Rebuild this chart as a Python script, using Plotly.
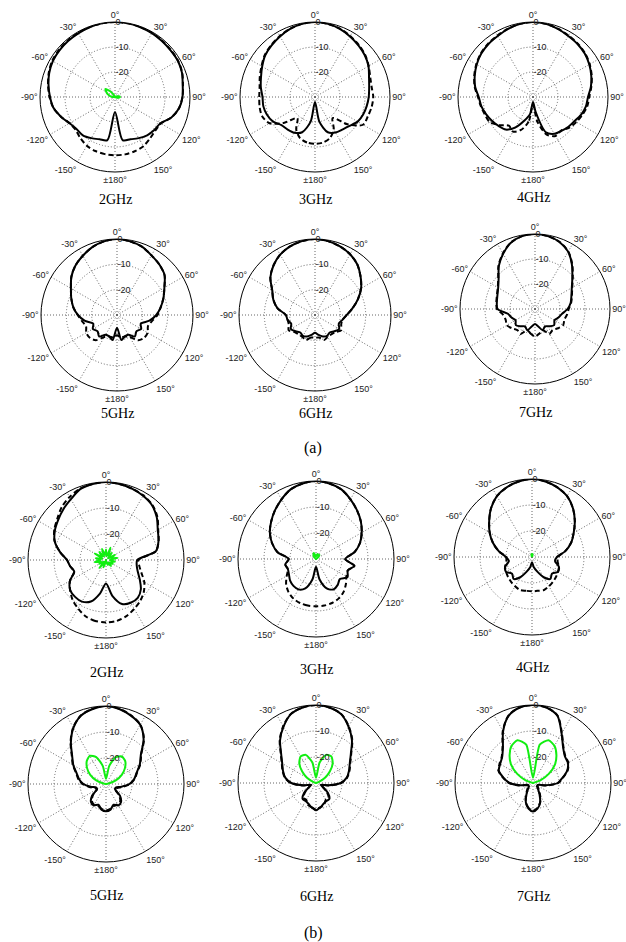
import plotly.graph_objects as go

W, H = 626, 942

THETA = [-180, -170, -160, -150, -140, -130, -120, -110, -100, -90, -80, -70, -60, -50, -40, -30, -20, -10,
         0, 10, 20, 30, 40, 50, 60, 70, 80, 90, 100, 110, 120, 130, 140, 150, 160, 170, 180]

ANG_TICKVALS = [0, 30, 60, 90, 120, 150, 180, 210, 240, 270, 300, 330]
ANG_TICKTEXT = ["0°", "30°", "60°", "90°", "120°", "150°", "±180°", "-150°", "-120°", "-90°", "-60°", "-30°"]
RAD_TICKVALS = [-20, -10, 0]
RAD_TICKTEXT = ["-20", "-10", "0"]
FREQS = ["2GHz", "3GHz", "4GHz", "5GHz", "6GHz", "7GHz"]
GROUP_LABELS = ["(a)", "(b)"]

# ---------------- (a) ----------------
A2_SOLID = [-24, -12.5, -12, -11, -10, -10, -9, -7, -5, -4, -3, -2, -1.3, -1, -0.8, -0.6, -0.3, -0.1,
            0, -0.1, -0.3, -0.5, -0.8, -1, -1, -1.5, -2.5, -3, -4, -6, -9, -9.5, -10, -11, -12, -12.5, -24]
A2_DASH = [-6.7, -6.8, -7, -7.5, -8.5, -9.5, -9, -7, -5, -3.8, -2.8, -1.8, -1, -0.7, -0.5, -0.4, -0.2, -0.1,
           0, -0.1, -0.2, -0.4, -0.6, -0.8, -0.9, -1.4, -2.4, -3, -4, -6, -8.8, -9, -8.3, -7.3, -6.9, -6.7, -6.7]
A2_GREEN = [-30, -30, -30, -30, -30, -30, -30, -30, -30, -29, -28, -27, -26, -25, -27, -29, -30, -30,
            -30, -30, -30, -30, -30, -30, -30, -29.5, -28.5, -28, -28.5, -29.5, -30, -30, -30, -30, -30, -30, -30]

A3_SOLID = [-28, -20, -15, -13.5, -13, -12.5, -10.5, -9.5, -9, -9, -8, -7, -5.6, -4, -3, -2, -1, -0.3,
            0, -0.3, -1, -2, -3, -4, -5.3, -7, -8, -8.5, -9, -9.5, -10.3, -12, -13, -13.6, -15, -20, -28]
A3_DASH = [-11.3, -11.5, -12.5, -15, -19, -14, -9, -7.5, -7.5, -7.7, -7.5, -6.5, -5.3, -3.8, -2.8, -1.8, -0.9, -0.3,
           0, -0.3, -0.9, -1.8, -2.8, -3.8, -5.2, -6.5, -7, -6.7, -7, -7.5, -7.8, -13, -19, -15, -12.5, -11.5, -11.3]

A4_SOLID = [-28, -23, -20, -16, -13, -12, -11, -10, -9, -8.3, -6.5, -5.2, -4, -3, -2.3, -1.8, -1, -0.3,
            0, -0.3, -1, -1.8, -2.3, -3, -4, -5.2, -6.5, -8, -8.5, -9.5, -10.8, -11.5, -12.3, -13, -15, -24, -28]
A4_DASH = [-27, -20, -16, -14, -15, -12.5, -10, -9.5, -8.8, -8, -6.3, -5, -3.8, -2.8, -2.1, -1.6, -0.9, -0.3,
           0, -0.3, -0.9, -1.6, -2.1, -2.8, -3.8, -5, -6.3, -7.5, -8, -9, -10, -11, -12.5, -12, -14, -20, -27]

A5_SOLID = [-25, -20, -21, -21, -19, -20, -19, -20, -17, -14.6, -12.5, -10.8, -9, -6.5, -4.5, -3, -1.5, -0.5,
            0, -0.5, -1.3, -2.8, -4, -5.5, -8.4, -10.5, -12.5, -14.5, -17, -20, -19, -20, -19, -21, -21, -20, -25]
A5_DASH = [-22, -21, -21, -20, -17, -16, -16, -17, -16, -14.5, -12.5, -10.8, -9, -6.5, -4.5, -3, -1.5, -0.5,
           0, -0.5, -1.3, -2.8, -4, -5.5, -8.4, -10.5, -12.5, -14, -16, -17, -16, -16, -17, -20, -21, -21, -22]

A6_SOLID = [-23, -22, -21, -20.5, -21, -20, -19, -20, -19, -18.5, -15, -12.5, -10.5, -7, -4.5, -2.5, -1.2, -0.4,
            0, -0.4, -1.2, -2.3, -4, -6.5, -9, -12, -15, -17.5, -19, -20, -19, -20, -21, -20.5, -21, -22, -23]
A6_DASH = [-21, -21, -19.5, -20, -20, -19.5, -18, -19, -19, -18.5, -15, -12.5, -10.5, -7, -4.5, -2.5, -1.2, -0.4,
           0, -0.4, -1.2, -2.3, -4, -6.5, -9, -12, -15, -17.5, -19, -19, -18, -19.5, -20, -20, -19.5, -21, -21]

A7_SOLID = [-24, -23, -21, -22, -21, -20, -21, -20, -19, -15, -14.5, -14, -13, -11, -7.5, -4.5, -1.8, -0.4,
            0, -0.4, -1.5, -3.5, -7, -10.5, -13, -14.5, -15.5, -17, -19, -20, -21, -20, -21, -22, -21, -23, -24]
A7_DASH = [-19, -20, -21, -18.5, -19, -18, -17, -17.5, -17, -14.8, -14.3, -13.8, -12.8, -10.8, -7.3, -4.3, -1.7, -0.4,
           0, -0.4, -1.4, -3.4, -6.8, -10.3, -12.8, -14.3, -15.3, -16.5, -17, -17.5, -17, -18, -19, -18.5, -21, -20, -19]

# ---------------- (b) ----------------
B2_SOLID = [-21, -17, -13, -11.5, -11.5, -12, -14, -17, -16, -15, -12, -9, -7.3, -6, -4.5, -3, -1, -0.3,
            0, -0.3, -0.8, -1.5, -2.5, -4.5, -7, -8.5, -10.5, -18, -18, -17, -15, -12.5, -11, -11, -12, -16, -21]
B2_DASH = [-6, -6.2, -7, -8.5, -10, -12, -14, -17, -16, -15, -12, -9, -7, -5.5, -3.5, -2, -0.8, -0.3,
           0, -0.3, -0.8, -1.3, -2.3, -4.2, -6.8, -8.5, -10.5, -17.5, -17, -15.5, -13, -11, -9.5, -8.3, -7, -6.2, -6]
B2_GREEN = [-30, -29, -27, -29, -26, -29, -27, -28, -25.5, -28, -26, -28.5, -25, -28, -26, -28.5, -25.5, -28,
            -26, -28.5, -25, -28, -26.5, -29, -26, -28, -25.5, -28.5, -26.5, -28, -27, -28.5, -27, -29, -28, -29.5, -30]

B3_SOLID = [-27, -22, -18, -16.5, -16.5, -17, -18, -18.5, -18, -19.5, -15, -12, -9.5, -7.5, -5.5, -3.5, -1.5, -0.5,
            0, -0.5, -1.5, -3.5, -5.5, -7.5, -9.7, -12, -15, -18.8, -15, -17, -16, -18, -17, -16.5, -18, -22, -27]
B3_DASH = [-11.8, -11.8, -12, -12.5, -13.5, -15, -17, -18.5, -18, -19.5, -15, -12, -9.5, -7.5, -5.5, -3.5, -1.5, -0.5,
           0, -0.5, -1.5, -3.5, -5.5, -7.5, -9.7, -12, -15, -18.8, -15, -17, -16.5, -15, -13.5, -12.5, -12, -11.8, -11.8]
B3_GREEN = [-30, -30, -30, -30, -30, -30, -30, -30, -30, -30, -30, -30, -30, -29.5, -28.5, -28, -27.5, -28.5,
            -29, -28.5, -28, -28.5, -28, -29, -30, -30, -30, -30, -30, -30, -30, -30, -30, -30, -30, -30, -30]

B4_SOLID = [-28, -26, -24, -21, -19, -20, -18.5, -19, -21, -20, -17, -14, -11.2, -8.5, -5.5, -3, -1.5, -0.5,
            0, -0.5, -1.5, -3, -5.5, -8.5, -11.5, -14, -17, -20.4, -21, -19, -18.5, -20, -19, -21, -24, -26, -28]
B4_DASH = [-16.8, -16.8, -16.5, -17, -17.5, -18, -18.5, -19, -20, -20, -17, -14, -11.2, -8.5, -5.5, -3, -1.5, -0.5,
           0, -0.5, -1.5, -3, -5.5, -8.5, -11.5, -14, -17, -20, -20, -19, -18.5, -18, -17.5, -17, -16.5, -16.8, -16.8]
B4_GREEN = [-30, -30, -30, -30, -30, -30, -30, -30, -30, -30, -30, -30, -30, -30, -30, -30, -29.5, -29,
            -28.8, -29, -29.5, -30, -30, -30, -30, -30, -30, -30, -30, -30, -30, -30, -30, -30, -30, -30, -30]

B5_SOLID = [-19.5, -20, -21.5, -20.5, -21, -23, -26, -26, -24, -21.3, -19.5, -18, -15.5, -13, -9, -5, -2, -0.7,
            0, -0.7, -2, -3.7, -7.5, -12.5, -15, -17.5, -19, -21, -24, -26, -26, -23, -21, -20.5, -21.5, -20, -19.5]
B5_DASH = [-19.8, -20.3, -21, -20.8, -21.5, -23.5, -26, -25.5, -23.5, -21, -19.2, -17.8, -15.3, -12.8, -8.8, -4.8, -1.9, -0.6,
           0, -0.6, -1.9, -3.6, -7.3, -12.3, -14.8, -17.3, -18.8, -20.8, -23.5, -25.5, -26, -23.5, -21.5, -21, -21, -20.3, -19.8]
B5_GREEN = [-30, -30, -30, -30, -30, -30, -30, -30, -30, -30, -29, -26, -23, -20.5, -18.5, -17.5, -19, -23,
            -28, -23, -19, -17.8, -18.5, -20.5, -23, -26, -29, -30, -30, -30, -30, -30, -30, -30, -30, -30, -30]

B6_SOLID = [-19.5, -20.5, -21.5, -22, -22, -24, -27, -28, -25, -20.5, -18, -16.5, -15, -12.5, -8.5, -5, -1.8, -0.5,
            0, -0.5, -1.8, -5, -8.5, -12.5, -15, -16.5, -18, -20.5, -25, -28, -27, -24, -22, -22, -21.5, -20.5, -19.5]
B6_DASH = [-19.8, -20.5, -21, -22.5, -22.5, -24.5, -27, -27.5, -24.5, -20.3, -17.8, -16.3, -14.8, -12.3, -8.3, -4.8, -1.7, -0.5,
           0, -0.5, -1.7, -4.8, -8.3, -12.3, -14.8, -16.3, -17.8, -20.3, -24.5, -27.5, -27, -24.5, -22.5, -22.5, -21, -20.5, -19.8]
B6_GREEN = [-30, -30, -30, -30, -30, -30, -30, -30, -30, -30, -30, -29, -26, -23, -20, -18.2, -18.5, -22,
            -28, -22, -18.5, -18.2, -20, -23, -26, -29, -30, -30, -30, -30, -30, -30, -30, -30, -30, -30, -30]

B7_SOLID = [-19, -20, -22, -25, -27, -28, -28, -28, -25, -21, -18.5, -16, -15.4, -14.5, -12, -7, -2.5, -0.5,
            0, -0.5, -2.5, -8, -12, -14, -14.5, -16, -18.5, -20.5, -25, -28, -28, -28, -27, -25, -22, -20, -19]
B7_DASH = [-19.3, -20.3, -22, -24.5, -26.5, -27.5, -28, -27.5, -24.5, -20.8, -18.3, -15.8, -15.2, -14.3, -11.8, -6.8, -2.4, -0.5,
           0, -0.5, -2.4, -7.8, -11.8, -13.8, -14.3, -15.8, -18.3, -20.3, -24.5, -27.5, -28, -27.5, -26.5, -24.5, -22, -20.3, -19.3]
B7_GREEN = [-30, -30, -30, -30, -30, -30, -30, -30, -30, -30, -30, -27, -23, -19, -16, -13.5, -12.5, -15,
            -28, -15, -12.5, -13.5, -16, -19, -23, -27, -30, -30, -30, -30, -30, -30, -30, -30, -30, -30, -30]

PANELS = [
    (A2_SOLID, A2_DASH, A2_GREEN), (A3_SOLID, A3_DASH, None), (A4_SOLID, A4_DASH, None),
    (A5_SOLID, A5_DASH, None), (A6_SOLID, A6_DASH, None), (A7_SOLID, A7_DASH, None),
    (B2_SOLID, B2_DASH, B2_GREEN), (B3_SOLID, B3_DASH, B3_GREEN), (B4_SOLID, B4_DASH, B4_GREEN),
    (B5_SOLID, B5_DASH, B5_GREEN), (B6_SOLID, B6_DASH, B6_GREEN), (B7_SOLID, B7_DASH, B7_GREEN),
]

GEOM = [
    (115, 97, 75), (315, 97, 75), (533, 97, 75),
    (117, 315, 76), (315, 315, 76), (535, 309, 75),
    (106, 560, 78), (316, 559, 78), (532, 557, 78),
    (106, 784, 78), (316, 783, 78), (533, 783, 78),
]
TITLE_Y = [199, 199, 198, 413, 413, 412, 672, 669, 667, 895, 896, 896]
GROUP_Y = [448, 933]

GRID = dict(showgrid=True, gridcolor="#666", gridwidth=1, griddash="1px,2px")
TICKFONT = dict(family="Liberation Sans, Arial", size=9, color="#222")

fig = go.Figure()
layout = {}
for i, ((sol, das, grn), (cx, cy, r)) in enumerate(zip(PANELS, GEOM)):
    sub = "polar" if i == 0 else f"polar{i+1}"
    fig.add_trace(go.Scatterpolar(r=das, theta=THETA, mode="lines", subplot=sub,
                                  line=dict(color="black", width=2, dash="5px,3px", shape="spline", smoothing=0.8),
                                  showlegend=False, hoverinfo="skip"))
    fig.add_trace(go.Scatterpolar(r=sol, theta=THETA, mode="lines", subplot=sub,
                                  line=dict(color="black", width=2, shape="spline", smoothing=0.8),
                                  showlegend=False, hoverinfo="skip"))
    if grn is not None:
        fig.add_trace(go.Scatterpolar(r=grn, theta=THETA, mode="lines", subplot=sub,
                                      line=dict(color="#11ee11", width=2, shape="spline", smoothing=0.6),
                                      showlegend=False, hoverinfo="skip"))
    layout[sub] = dict(
        domain=dict(x=[(cx - r) / W, (cx + r) / W], y=[1 - (cy + r) / H, 1 - (cy - r) / H]),
        bgcolor="white",
        angularaxis=dict(rotation=90, direction="clockwise", tickmode="array",
                         tickvals=ANG_TICKVALS, ticktext=ANG_TICKTEXT,
                         showline=True, linecolor="black", linewidth=1,
                         ticks="", tickfont=TICKFONT, **GRID),
        radialaxis=dict(range=[-30, 0], tickmode="array", tickvals=RAD_TICKVALS, ticktext=RAD_TICKTEXT,
                        angle=90, tickangle=90, side="clockwise", showline=False, ticks="",
                        tickfont=TICKFONT, **GRID),
    )

annotations = []
for i, (cx, cy, r) in enumerate(GEOM):
    annotations.append(dict(text=FREQS[i % 6], x=cx / W, y=1 - TITLE_Y[i] / H, xref="paper", yref="paper",
                            showarrow=False, xanchor="center", yanchor="middle",
                            font=dict(family="Liberation Serif, Times New Roman", size=14, color="black")))
for lab, gy in zip(GROUP_LABELS, GROUP_Y):
    annotations.append(dict(text=lab, x=313 / W, y=1 - gy / H, xref="paper", yref="paper",
                            showarrow=False, xanchor="center", yanchor="middle",
                            font=dict(family="Liberation Serif, Times New Roman", size=16, color="black")))

fig.update_layout(width=W, height=H, margin=dict(l=0, r=0, t=0, b=0), template="none",
                  paper_bgcolor="white", plot_bgcolor="white", showlegend=False,
                  annotations=annotations, **layout)
fig.write_html("out.html")
